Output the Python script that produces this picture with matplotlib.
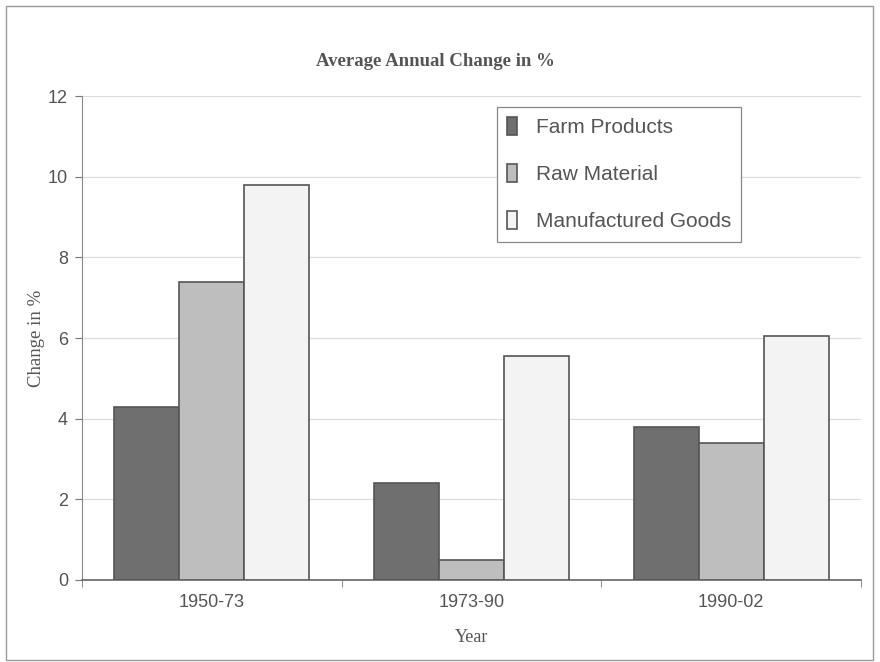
import numpy as np
import matplotlib.pyplot as plt
from matplotlib.patches import Rectangle

# Average annual change by period
periods = ['1950-73', '1973-90', '1990-02']
farm_products = [4.3, 2.4, 3.8]
raw_material = [7.4, 0.5, 3.4]
manufactured_goods = [9.8, 5.55, 6.05]
series_names = ['Farm Products', 'Raw Material', 'Manufactured Goods']

colors = ['#6f6f6f', '#bebebe', '#f3f3f3']
edge = '#555555'
text_gray = '#555555'

fig = plt.figure(figsize=(8.8, 6.62), dpi=100)
ax = fig.add_axes([82 / 880, 1 - 580 / 662, (861 - 82) / 880, (580 - 96) / 662])

# outer frame round the whole chart
fig.patches.append(Rectangle((6 / 880, 2 / 662), 867 / 880, 654 / 662,
                             transform=fig.transFigure, fill=False,
                             edgecolor='#9a9a9a', linewidth=1.0))

x = np.arange(len(periods))
width = 0.25
for i, (vals, name) in enumerate(zip([farm_products, raw_material, manufactured_goods], series_names)):
    ax.bar(x + (i - 1) * width, vals, width, color=colors[i], edgecolor=edge,
           linewidth=1.2, label=name, zorder=3)

ax.set_xlim(-0.5, len(periods) - 0.5)
ax.set_ylim(0, 12)
ax.set_yticks(np.arange(0, 13, 2))
ax.set_xticks(x)
ax.set_xticklabels(periods)
ax.set_xticks(np.arange(-0.5, len(periods)), minor=True)
ax.tick_params(axis='x', which='major', length=0, pad=10)
ax.tick_params(axis='x', which='minor', length=5, color='#777777', direction='out')
ax.tick_params(axis='y', length=5, color='#777777', direction='out', pad=5)
for lab in ax.get_xticklabels() + ax.get_yticklabels():
    lab.set_fontfamily('Liberation Sans')
    lab.set_fontsize(13)
    lab.set_color(text_gray)

ax.grid(axis='y', color='#dddddd', linewidth=0.9, zorder=0)
ax.spines['top'].set_visible(False)
ax.spines['right'].set_visible(False)
ax.spines['left'].set_color('#888888')
ax.spines['bottom'].set_color('#666666')
ax.spines['bottom'].set_linewidth(1.2)

fig.text(435 / 880, 1 - 61 / 662, 'Average Annual Change in %', ha='center', va='center',
         fontfamily='Liberation Serif', fontweight='bold', fontsize=13.5, color=text_gray)
ax.set_ylabel('Change in %', fontfamily='Liberation Serif', fontsize=13.5,
              color=text_gray, labelpad=2)
ax.set_xlabel('Year', fontfamily='Liberation Serif', fontsize=13,
              color=text_gray, labelpad=13)

leg = ax.legend(loc='upper left', bbox_to_anchor=((497 - 82) / 779, (580 - 107) / 484),
                prop={'family': 'Liberation Sans', 'size': 15},
                handlelength=0.45, handleheight=0.9, handletextpad=0.9,
                labelspacing=1.3, borderpad=0.5, borderaxespad=0, fancybox=False,
                framealpha=1, edgecolor='#888888')
leg.get_frame().set_linewidth(0.9)
for t in leg.get_texts():
    t.set_color(text_gray)

fig.savefig('out.png', dpi=100, facecolor='white')
